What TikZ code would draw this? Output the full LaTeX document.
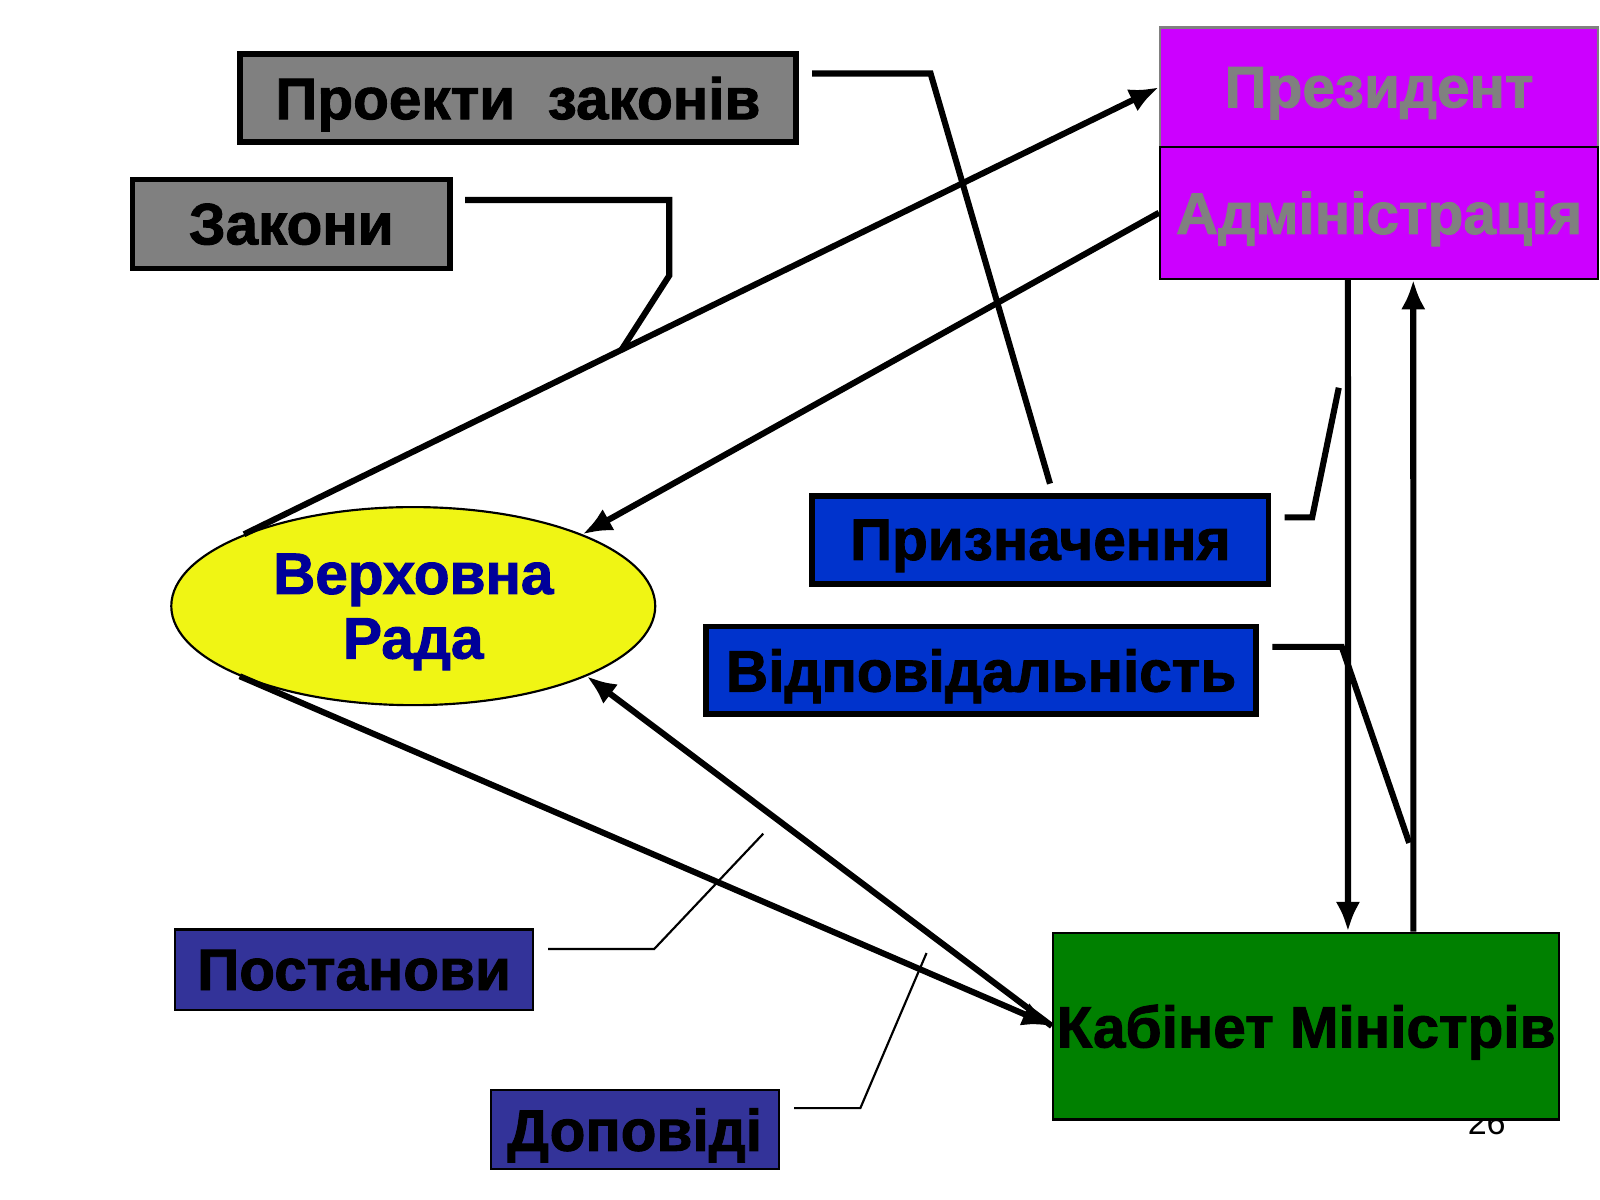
\documentclass[tikz,border=0pt]{standalone}
\usepackage{fontspec}
\setmainfont{Liberation Sans}[BoldFeatures={FakeBold=1.6}]
\usepackage{tikz}
\usetikzlibrary{shapes.geometric,arrows.meta}
\definecolor{boxgrey}{RGB}{128,128,128}
\definecolor{presmag}{RGB}{204,0,255}
\definecolor{radayel}{RGB}{240,245,20}
\definecolor{radablue}{RGB}{0,0,153}
\definecolor{prblue}{RGB}{0,51,204}
\definecolor{postblue}{RGB}{51,51,153}
\definecolor{kabgreen}{RGB}{0,128,0}

\begin{document}
\begin{tikzpicture}[x=0.01cm, y=-0.01cm,
        every node/.style = {font=\bfseries\fontsize{16.3}{18}\selectfont,
                             align=center, inner sep=0pt, text depth=0pt},
        greybox/.style = {rectangle, draw, line width=1.6pt, fill=boxgrey},
        bluebox/.style = {rectangle, draw, line width=1.6pt, fill=prblue},
        postbox/.style = {rectangle, draw, line width=0.6pt, fill=postblue},
        presbox/.style = {rectangle, fill=presmag, text=boxgrey},
        conn/.style = {line width=1.7pt, -{Latex[length=2.9mm,width=2.4mm]}},
        lbl/.style = {line width=1.7pt},
        thinlbl/.style = {line width=0.6pt}]
    \useasboundingbox (0,0) rectangle (1568,1176);

    % top boxes
    \node[greybox, minimum width=5.45cm, minimum height=0.86cm] (proj) at (507.5,96) {Проекти~~законів};
    \node[greybox, minimum width=3.11cm, minimum height=0.87cm] (zak) at (285.5,219.5) {Закони};
    \node[presbox, draw=boxgrey, line width=0.6pt, minimum width=4.29cm, minimum height=1.17cm] (pres) at (1351.5,85.5) {Президент};
    \node[presbox, draw, line width=0.6pt, minimum width=4.29cm, minimum height=1.29cm] (adm) at (1351.5,208.5) {Адміністрація};

    % middle
    \node[ellipse, draw, line width=0.6pt, fill=radayel, text=radablue,
          minimum width=4.74cm, minimum height=1.94cm] (vr) at (405,594) {Верховна\\Рада};
    \node[bluebox, minimum width=4.47cm, minimum height=0.86cm] (prz) at (1019.5,529) {Призначення};
    \node[bluebox, minimum width=5.39cm, minimum height=0.86cm] (vid) at (961.5,657) {Відповідальність};

    % bottom
    \node[postbox, minimum width=3.50cm, minimum height=0.79cm] (post) at (347,950.5) {Постанови};
    \node[postbox, minimum width=2.82cm, minimum height=0.78cm] (dop) at (622,1107) {Доповіді};
    \node[font=\fontsize{9.5}{11}\selectfont] (page) at (1457,1100) {26};
    \node[rectangle, draw, line width=0.6pt, fill=kabgreen, minimum width=4.96cm, minimum height=1.83cm] (kab) at (1280,1005.5) {Кабінет Міністрів};

    % free ends of the label lines
    \coordinate (prjEnd) at (1029,474);
    \coordinate (zakEnd) at (609,343);
    \coordinate (przEnd) at (1312,380);
    \coordinate (vidEnd) at (1381,826);
    \coordinate (postEnd) at (748,817);
    \coordinate (dopEnd) at (908,934);

    % arrows
    \draw[conn] (vr.157) -- (pres.west);
    \draw[conn] (adm.west) -- (vr.23);
    \draw[conn] (vr.202) -- (kab.west);
    \draw[conn] (kab.west) -- (vr.338);
    \draw[conn] ([xshift=-3.05mm]adm.south) -- ([xshift=4.1mm]kab.north);
    \draw[conn] ([xshift=10.5mm]kab.north) -- ([xshift=3.35mm]adm.south);

    % label lines
    \draw[lbl] ([shift={(13,-24)}]proj.east) -- ++(116,0) -- (prjEnd);
    \draw[lbl] ([shift={(12,-23.5)}]zak.east) -- ++(200,0) -- ++(0,74) -- (zakEnd);
    \draw[lbl] ([shift={(13,-22)}]prz.east) -- ++(27,0) -- (przEnd);
    \draw[lbl] ([shift={(13,-23)}]vid.east) -- ++(68,0) -- (vidEnd);
    \draw[thinlbl] ([shift={(14,-20.5)}]post.east) -- ++(104,0) -- (postEnd);
    \draw[thinlbl] ([shift={(14,-21)}]dop.east) -- ++(65,0) -- (dopEnd);
\end{tikzpicture}
\end{document}
